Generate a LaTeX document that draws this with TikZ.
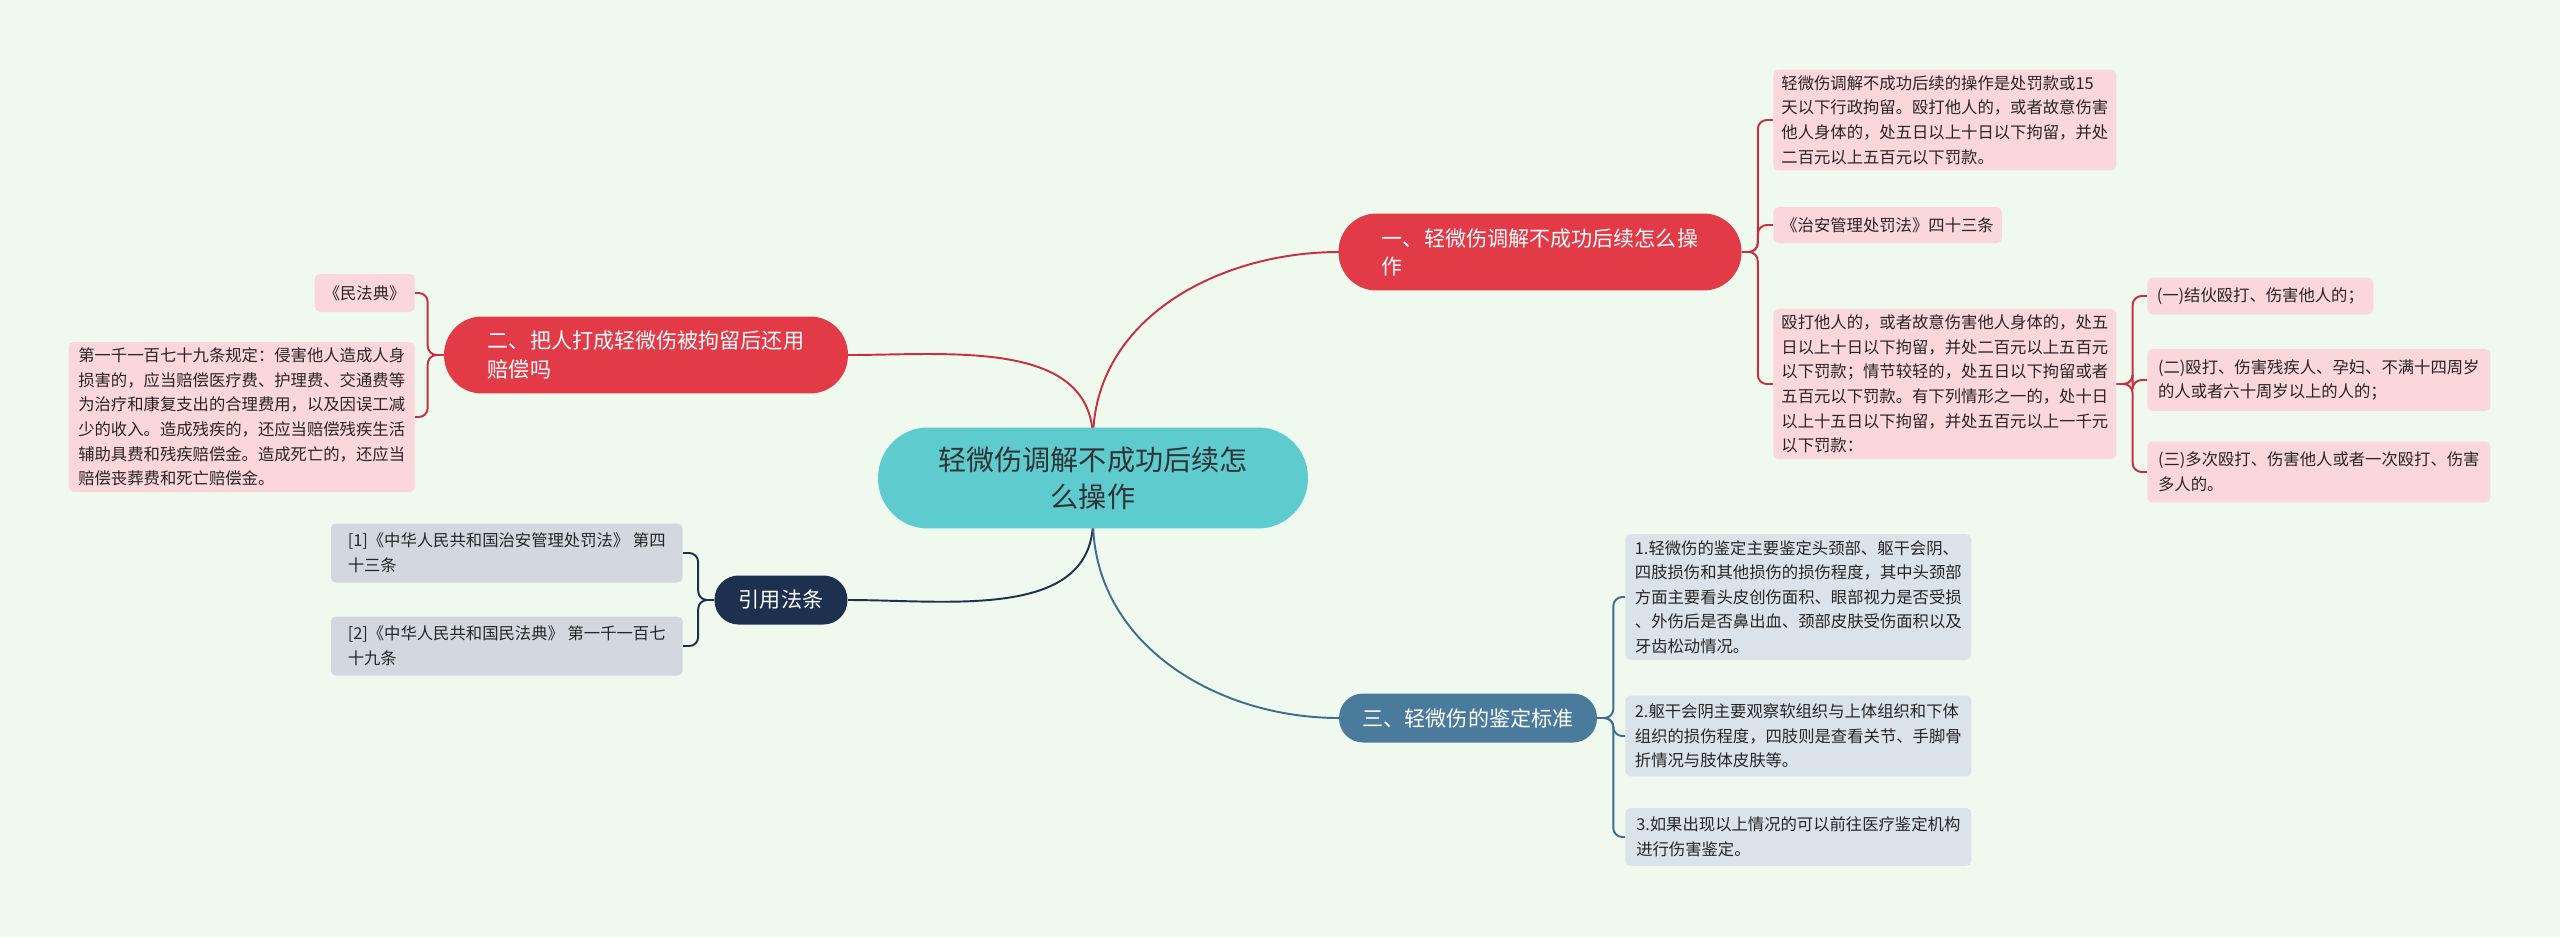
\documentclass[tikz,border=0pt]{standalone}
\usepackage{fontspec}
\newfontfamily\cjk{Noto Sans CJK SC}
\newdimen\upx \upx=0.569pt
\definecolor{bgc}{HTML}{F0F9EE}
\definecolor{redc}{HTML}{E33A48}
\definecolor{redl}{HTML}{C8303F}
\definecolor{pinkc}{HTML}{FBD6DB}
\definecolor{navyc}{HTML}{1E3050}
\definecolor{bluec}{HTML}{4A7A9C}
\definecolor{bluel}{HTML}{3E6E8F}
\definecolor{greyc}{HTML}{D3D8DF}
\definecolor{bleaf}{HTML}{DAE3EA}
\definecolor{centc}{HTML}{5ECBCF}
\begin{document}
\begin{tikzpicture}[x=0.02cm,y=-0.02cm,
 leaf/.style={rounded corners=5\upx, inner xsep=8\upx, inner ysep=6\upx, align=left, text=black!85, font=\cjk\fontsize{9.3}{14}\selectfont},
 pleaf/.style={leaf, fill=pinkc},
 gleaf/.style={leaf, fill=greyc},
 bleafs/.style={leaf, fill=bleaf},
 branch/.style={rounded corners=24\upx, text=white, align=left, font=\cjk\fontsize{12}{16}\selectfont, inner xsep=14\upx},
 rl/.style={draw=redl, line width=1.1pt},
 nl/.style={draw=navyc, line width=1.1pt},
 bl/.style={draw=bluel, line width=1.1pt},
 br/.style={rounded corners=9\upx}]
\fill[bgc] (0,0) rectangle (2560,937);
\useasboundingbox (0,0) rectangle (2560,937);
\coordinate (cc) at (1093,478);
\coordinate (c1) at (1093,440);
\coordinate (c2) at (1093,520);
\draw[rl] (c1) to[out=90,in=180] (1339,252);
\draw[rl] (c1) to[out=90,in=0] (848,355);
\draw[nl] (c2) to[out=-90,in=0] (848,600);
\draw[bl] (c2) to[out=-90,in=180] (1339,718);
\node[fill=centc, rounded corners=50\upx, minimum width=430\upx, minimum height=101\upx, align=center, text=black!80, font=\cjk\fontsize{16}{21}\selectfont] (center) at (cc) {轻微伤调解不成功后续怎\\么操作};
\node[branch, fill=redc, minimum width=403\upx, minimum height=77\upx, rounded corners=38\upx] (b1) at (1540,252) {一、轻微伤调解不成功后续怎么操\\作};
\node[branch, fill=redc, minimum width=404\upx, minimum height=77\upx, rounded corners=38\upx] (b2) at (646,355) {二、把人打成轻微伤被拘留后还用\\赔偿吗};
\node[branch, fill=navyc, minimum width=133\upx, minimum height=49\upx] (b3) at (781,600) {引用法条};
\node[branch, fill=bluec, minimum width=258\upx, minimum height=49\upx] (b4) at (1468,718) {三、轻微伤的鉴定标准};
\node[pleaf, anchor=west, minimum width=343\upx, minimum height=100\upx] (a1) at (1773,120) {轻微伤调解不成功后续的操作是处罚款或15\\天以下行政拘留。殴打他人的，或者故意伤害\\他人身体的，处五日以上十日以下拘留，并处\\二百元以上五百元以下罚款。};
\node[pleaf, anchor=west, minimum height=36\upx] (a2) at (1773,225) {《治安管理处罚法》四十三条};
\node[pleaf, anchor=west, minimum width=343\upx, minimum height=143\upx] (a3) at (1773,384) {殴打他人的，或者故意伤害他人身体的，处五\\日以上十日以下拘留，并处二百元以上五百元\\以下罚款；情节较轻的，处五日以下拘留或者\\五百元以下罚款。有下列情形之一的，处十日\\以上十五日以下拘留，并处五百元以上一千元\\以下罚款：};
\node[pleaf, anchor=west, minimum width=226\upx, minimum height=37\upx] (a3a) at (2147,296) {(一)结伙殴打、伤害他人的；};
\node[pleaf, anchor=west, minimum width=343\upx, minimum height=62\upx] (a3b) at (2147,380) {(二)殴打、伤害残疾人、孕妇、不满十四周岁\\的人或者六十周岁以上的人的；};
\node[pleaf, anchor=west, minimum width=343\upx, minimum height=61\upx] (a3c) at (2147,472) {(三)多次殴打、伤害他人或者一次殴打、伤害\\多人的。};
\node[pleaf, anchor=east, minimum width=100\upx, minimum height=38\upx] (c1n) at (415,293) {《民法典》};
\node[pleaf, anchor=east, minimum width=346\upx, minimum height=145\upx] (c2n) at (415,417) {第一千一百七十九条规定：侵害他人造成人身\\损害的，应当赔偿医疗费、护理费、交通费等\\为治疗和康复支出的合理费用，以及因误工减\\少的收入。造成残疾的，还应当赔偿残疾生活\\辅助具费和残疾赔偿金。造成死亡的，还应当\\赔偿丧葬费和死亡赔偿金。};
\node[gleaf, anchor=east, minimum width=352\upx, minimum height=59\upx] (r1) at (683,553) {[1]《中华人民共和国治安管理处罚法》 第四\\十三条};
\node[gleaf, anchor=east, minimum width=352\upx, minimum height=59\upx] (r2) at (683,646) {[2]《中华人民共和国民法典》 第一千一百七\\十九条};
\node[bleafs, anchor=west, minimum width=346\upx, minimum height=121\upx] (d1) at (1625,597) {1.轻微伤的鉴定主要鉴定头颈部、躯干会阴、\\四肢损伤和其他损伤的损伤程度，其中头颈部\\方面主要看头皮创伤面积、眼部视力是否受损\\、外伤后是否鼻出血、颈部皮肤受伤面积以及\\牙齿松动情况。};
\node[bleafs, anchor=west, minimum width=346\upx, minimum height=81\upx] (d2) at (1625,736) {2.躯干会阴主要观察软组织与上体组织和下体\\组织的损伤程度，四肢则是查看关节、手脚骨\\折情况与肢体皮肤等。};
\node[bleafs, anchor=west, minimum width=346\upx, minimum height=58\upx] (d3) at (1625,837) {3.如果出现以上情况的可以前往医疗鉴定机构\\进行伤害鉴定。};
\foreach \c in {a1,a2,a3} \draw[rl,br] (b1.east) -- ++(16,0) |- (\c.west);
\foreach \c in {a3a,a3b,a3c} \draw[rl,br] (a3.east) -- ++(16,0) |- (\c.west);
\foreach \c in {c1n,c2n} \draw[rl,br] (b2.west) -- ++(-16,0) |- (\c.east);
\foreach \c in {r1,r2} \draw[nl,br] (b3.west) -- ++(-16,0) |- (\c.east);
\foreach \c in {d1,d2,d3} \draw[bl,br] (b4.east) -- ++(16,0) |- (\c.west);
\end{tikzpicture}
\end{document}
